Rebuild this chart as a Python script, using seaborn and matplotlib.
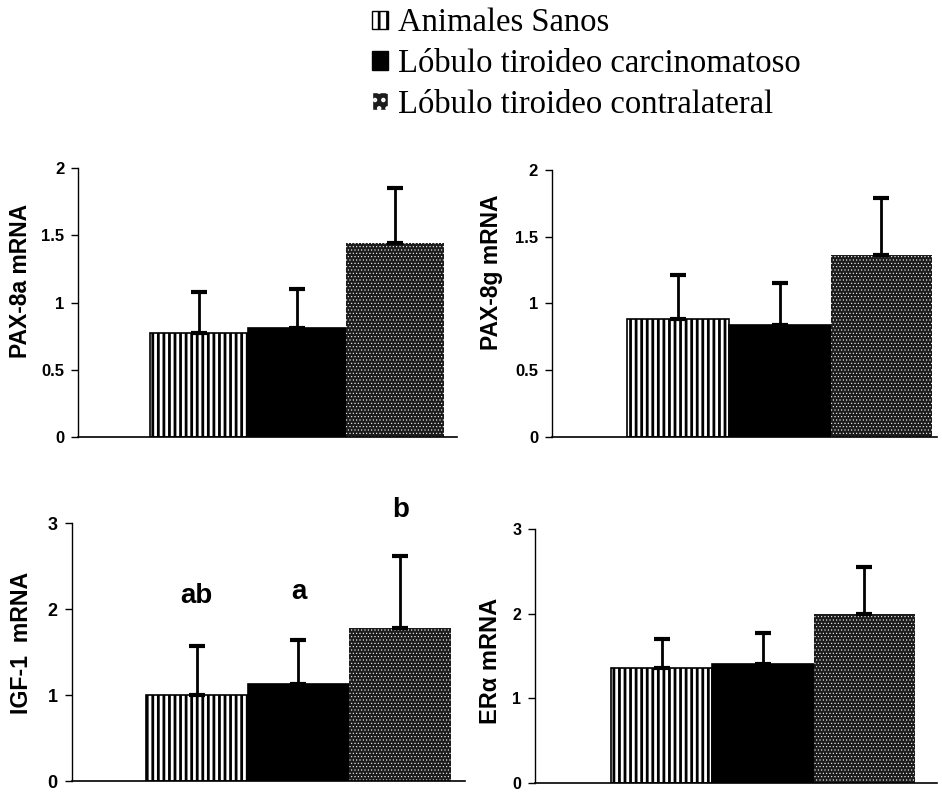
import numpy as np
import pandas as pd
import seaborn as sns
import matplotlib
matplotlib.use("Agg")
import matplotlib.pyplot as plt
from matplotlib.patches import Patch

sns.set_style("ticks")
plt.rcParams["font.family"] = ["Liberation Sans", "DejaVu Sans"]
plt.rcParams["text.color"] = "black"
plt.rcParams["axes.labelcolor"] = "black"
plt.rcParams["ytick.color"] = "black"
plt.rcParams["axes.edgecolor"] = "black"
plt.rcParams["hatch.linewidth"] = 2.0

# datos
grupos = ["Animales Sanos", "Lóbulo tiroideo carcinomatoso", "Lóbulo tiroideo contralateral"]
genes = ["PAX-8a mRNA", "PAX-8g mRNA", "IGF-1  mRNA", "ERα mRNA"]
pax8a_media = [0.77, 0.81, 1.44]
pax8a_err = [0.31, 0.29, 0.41]
pax8g_media = [0.88, 0.84, 1.36]
pax8g_err = [0.33, 0.31, 0.43]
igf1_media = [1.00, 1.13, 1.78]
igf1_err = [0.57, 0.51, 0.84]
era_media = [1.35, 1.40, 2.00]
era_err = [0.35, 0.37, 0.55]
igf1_letras = ["ab", "a", "b"]
igf1_letras_y = [2.16, 2.2, 3.15]

medias = [pax8a_media, pax8g_media, igf1_media, era_media]
errores = [pax8a_err, pax8g_err, igf1_err, era_err]

fig = plt.figure(figsize=(9.42, 7.93), dpi=100)
posiciones = [
    [0.083, 0.449, 0.402, 0.339],
    [0.586, 0.449, 0.409, 0.337],
    [0.076, 0.015, 0.418, 0.325],
    [0.568, 0.013, 0.427, 0.320],
]
limites_y = [(0, 2), (0, 2), (0, 3), (0, 3)]
ticks_y = [[0, 0.5, 1, 1.5, 2], [0, 0.5, 1, 1.5, 2], [0, 1, 2, 3], [0, 1, 2, 3]]
etiquetas_y = [["0", "0.5", "1", "1.5", "2"], ["0", "0.5", "1", "1.5", "2"],
               ["0", "1", "2", "3"], ["0", "1", "2", "3"]]
limites_x = [(-1.23, 2.63), (-1.24, 2.55), (-1.23, 2.64), (-1.25, 2.72)]
tam_ticks = [12, 12, 13, 11.5]
tam_label = [16.5, 16.5, 16.7, 17]
pos_label = [(-0.121, 0.58), (-0.127, 0.618), (-0.099, 0.535), (-0.082, 0.48)]

for i in range(4):
    ax = fig.add_axes(posiciones[i])
    df = pd.DataFrame({"grupo": grupos, "media": medias[i]})
    sns.barplot(data=df, x="grupo", y="media", order=grupos, hue="grupo",
                palette=["white", "black", "#1c1c1c"], width=1.0,
                errorbar=None, edgecolor="black", linewidth=1.2,
                legend=False, ax=ax)
    barras = ax.patches
    barras[0].set_hatch("|||")
    barras[2].set_hatch(".....")
    barras[2].set_edgecolor("white")
    barras[2].set_linewidth(0)
    if hasattr(barras[2], "set_hatch_linewidth"):
        barras[2].set_hatch_linewidth(0.4)
    xs = [b.get_x() + b.get_width() / 2 for b in barras]
    ax.errorbar(xs, medias[i], yerr=[np.zeros(3), errores[i]], fmt="none",
                ecolor="black", elinewidth=2, capsize=6, capthick=3)
    ax.set_xlim(*limites_x[i])
    ax.set_ylim(*limites_y[i])
    ax.set_yticks(ticks_y[i])
    ax.set_yticklabels(etiquetas_y[i], fontweight="bold", fontsize=tam_ticks[i])
    ax.set_xticks([])
    ax.set_xlabel("")
    ax.set_ylabel(genes[i], fontweight="bold", fontsize=tam_label[i])
    ax.yaxis.set_label_coords(*pos_label[i])
    ax.tick_params(axis="y", direction="out", length=5, width=1, pad=5)
    sns.despine(ax=ax)
    ax.spines["left"].set_linewidth(1)
    ax.spines["bottom"].set_linewidth(1.2)
    if i == 2:
        for x, t, y in zip(xs, igf1_letras, igf1_letras_y):
            ax.text(x, y, t, ha="center", va="center", fontsize=20,
                    fontweight="bold", clip_on=False)

manijas = [
    Patch(facecolor="white", edgecolor="black", hatch="||", label=grupos[0]),
    Patch(facecolor="black", edgecolor="black", label=grupos[1]),
    Patch(facecolor="#1c1c1c", edgecolor="white", hatch="..", label=grupos[2]),
]
fig.legend(handles=manijas, loc="upper left", bbox_to_anchor=(0.395, 0.990),
           frameon=False, prop={"family": "Liberation Serif", "size": 23.5},
           handlelength=0.5, handleheight=0.5, handletextpad=0.3,
           labelspacing=0.31, borderaxespad=0, borderpad=0)

fig.savefig("out.png", dpi=100)
